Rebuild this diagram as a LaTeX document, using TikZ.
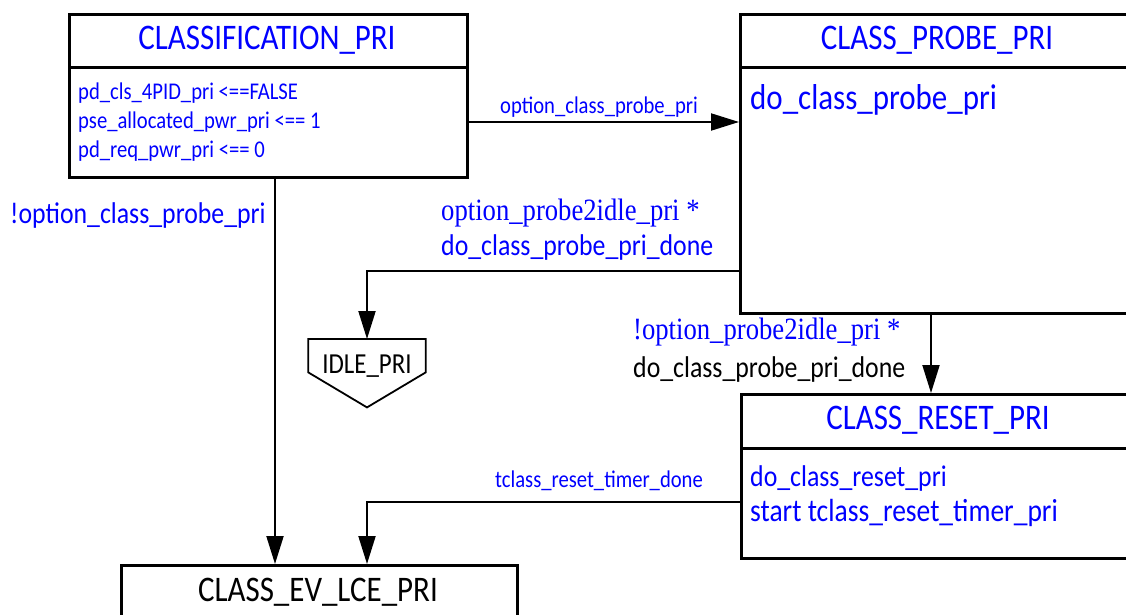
\documentclass[tikz,border=0pt]{standalone}
\usepackage{fontspec}
\setmainfont{Carlito}[FakeStretch=0.86]
\newfontfamily\serifb{Liberation Serif}[FakeStretch=0.86]
\usetikzlibrary{arrows.meta}
\definecolor{lblue}{RGB}{0,0,255}
\tikzset{
  statebox/.style={draw, line width=3pt, rectangle, inner sep=0pt},
  arr/.style={-{Triangle[length=28pt,width=17pt]}, line width=2pt},
  big/.style={font=\fontsize{36}{40}\selectfont, inner sep=0pt},
  mid/.style={font=\fontsize{30}{34}\selectfont, inner sep=0pt},
  small/.style={font=\fontsize{24}{28}\selectfont, inner sep=0pt},
  serifmid/.style={font=\serifb\fontsize{31}{34}\selectfont, inner sep=0pt},
  bl/.style={text=lblue},
}
\begin{document}
\begin{tikzpicture}[x=1pt,y=-1pt]
\useasboundingbox (0,0) rectangle (1126,615);
\clip (0,0) rectangle (1126,615);

% boxes
\node[statebox, anchor=north west, minimum width=398pt, minimum height=163pt] (cls) at (68,13) {};
\draw[line width=3pt] ([yshift=-55pt]cls.north west) -- ([yshift=-55pt]cls.north east);
\node[statebox, anchor=north west, minimum width=420pt, minimum height=299pt] (probe) at (739,13) {};
\draw[line width=3pt] ([yshift=-55pt]probe.north west) -- ([yshift=-55pt]probe.north east);
\node[statebox, anchor=north west, minimum width=420pt, minimum height=164pt] (reset) at (740,393) {};
\draw[line width=3pt] ([yshift=-55pt]reset.north west) -- ([yshift=-55pt]reset.north east);
\node[statebox, anchor=north west, minimum width=396pt, minimum height=80pt] (ev) at (120,564) {};

% idle state
\node[inner sep=0pt, minimum width=117pt, minimum height=33pt, anchor=north] (idle) at (367,339) {};
\draw[line width=1.8pt] (idle.north west) -- (idle.north east) -- (idle.south east)
  -- ([yshift=-35pt]idle.south) -- (idle.south west) -- cycle;
\node[inner sep=0pt, font=\fontsize{29}{32}\selectfont] (idletxt) at ([yshift=-10pt]idle.center) {IDLE\_PRI};

% titles and bodies
\node[big, bl] (clsT) at (267,40) {CLASSIFICATION\_PRI};
\node[small, bl, anchor=west] (cl1) at (78,93) {pd\_cls\_4PID\_pri <==FALSE};
\node[small, bl, anchor=west] (cl2) at (78,122) {pse\_allocated\_pwr\_pri <== 1};
\node[small, bl, anchor=west] (cl3) at (78,151) {pd\_req\_pwr\_pri <== 0};

\node[big, bl] (probeT) at (937,40) {CLASS\_PROBE\_PRI};
\node[big, bl, anchor=west] (pb1) at (750,100) {do\_class\_probe\_pri};

\node[big, bl] (resetT) at (938,420) {CLASS\_RESET\_PRI};
\node[mid, bl, anchor=west] (rs1) at (750,478) {do\_class\_reset\_pri};
\node[bl, inner sep=0pt, font=\fontsize{32}{34}\selectfont, anchor=west] (rs2) at (750,513) {start tclass\_reset\_timer\_pri};

\node[big] (evT) at (318,592) {CLASS\_EV\_LCE\_PRI};

% connector helper coordinates
\coordinate (y122) at (0,122);
\coordinate (y271) at (0,271);
\coordinate (y502) at (0,502);
\coordinate (x275) at (275,0);
\coordinate (x367) at (367,0);
\coordinate (x931) at (931,0);

% connectors
\draw[arr] (cls.east |- y122) -- (probe.west |- y122);
\draw[arr] (probe.west |- y271) -| (idle.north);
\draw[arr] (probe.south -| x931) -- (reset.north -| x931);
\draw[arr] (reset.west |- y502) -| (ev.north -| x367);
\draw[arr] (cls.south -| x275) -- (ev.north -| x275);

% connector labels
\node[small, bl] (l1) at (599,107) {option\_class\_probe\_pri};
\node[mid, bl, anchor=west] (l2) at (10,216) {!option\_class\_probe\_pri};
\node[serifmid, bl, anchor=west] (l3) at (441,213) {option\_probe2idle\_pri *};
\node[mid, bl, anchor=west] (l4) at (441,247) {do\_class\_probe\_pri\_done};
\node[serifmid, bl, anchor=west] (l5) at (633,332) {!option\_probe2idle\_pri *};
\node[mid, anchor=west] (l6) at (633,369) {do\_class\_probe\_pri\_done};
\node[small, bl] (l7) at (599,481) {tclass\_reset\_timer\_done};
\end{tikzpicture}
\end{document}
